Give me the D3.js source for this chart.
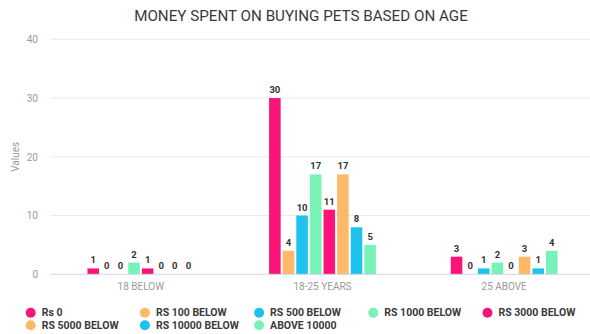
<!DOCTYPE html>
<html>
<head>
<meta charset="utf-8">
<script src="https://cdn.jsdelivr.net/npm/d3@7/dist/d3.min.js"></script>
<style>
  html, body { margin: 0; padding: 0; background: #fff; }
  svg { display: block; font-family: Roboto, "Noto Sans", sans-serif; }
</style>
</head>
<body>
<svg id="chart" width="590" height="334"></svg>
<script>
// Age groups on the x axis
const ageGroups = ["18 BELOW", "18-25 YEARS", "25 ABOVE"];

// Spending brackets (one bar per bracket in each group)
const brackets = ["Rs 0", "RS 100 BELOW", "RS 500 BELOW", "RS 1000 BELOW",
                  "RS 3000 BELOW", "RS 5000 BELOW", "RS 10000 BELOW", "ABOVE 10000"];

// Counts per bracket, one array per age group
const below18   = [1, 0, 0, 2, 1, 0, 0, 0];
const age18to25 = [30, 4, 10, 17, 11, 17, 8, 5];
const above25   = [3, 0, 1, 2, 0, 3, 1, 4];

const yTicks = [0, 10, 20, 30, 40];

const palette = ["#fa1479", "#fdb868", "#1dc3ec", "#79f2b8",
                 "#fa1479", "#fdb868", "#1dc3ec", "#79f2b8"];

const groupValues = [below18, age18to25, above25];

const svg = d3.select("#chart");

const x0 = d3.scaleBand().domain(ageGroups).range([50, 595]).padding(0);
const groupSpan = 106.8;
const x1 = d3.scaleBand().domain(brackets)
  .range([x0.bandwidth() / 2 - groupSpan / 2, x0.bandwidth() / 2 + groupSpan / 2])
  .paddingInner(0.15).paddingOuter(0);
const y = d3.scaleLinear().domain([0, 40]).range([274.3, 39.3]);
const color = d3.scaleOrdinal().domain(brackets).range(palette);

// Title
svg.append("text")
  .attr("x", 301).attr("y", 21)
  .attr("text-anchor", "middle")
  .attr("font-size", 15.2)
  .attr("fill", "#3a3a3a")
  .text("MONEY SPENT ON BUYING PETS BASED ON AGE");

// Horizontal gridlines
svg.append("g")
  .selectAll("line")
  .data(yTicks.filter(t => t !== 0))
  .join("line")
  .attr("x1", 50).attr("x2", 590)
  .attr("y1", d => y(d)).attr("y2", d => y(d))
  .attr("stroke", "#ececec").attr("stroke-width", 1);

// Y axis labels
const yAxis = svg.append("g")
  .attr("transform", "translate(38,0)")
  .call(d3.axisLeft(y).tickValues(yTicks).tickSize(0).tickPadding(0));
yAxis.select(".domain").remove();
yAxis.selectAll("text")
  .attr("font-family", "Roboto, sans-serif")
  .attr("font-size", 10)
  .attr("fill", "#9a9a9a");

// Y axis title
svg.append("text")
  .attr("transform", `translate(19,${(y(0) + y(40)) / 2}) rotate(-90)`)
  .attr("text-anchor", "middle")
  .attr("font-size", 10)
  .attr("fill", "#9a9a9a")
  .text("Values");

// Bars and their value labels
const groups = svg.append("g")
  .selectAll("g")
  .data(ageGroups.map((g, i) => ({ group: g, values: groupValues[i] })))
  .join("g")
  .attr("transform", d => `translate(${x0(d.group)},0)`);

groups.selectAll("rect")
  .data(d => d.values.map((v, i) => ({ key: brackets[i], value: v })))
  .join("rect")
  .attr("x", d => x1(d.key))
  .attr("width", x1.bandwidth())
  .attr("y", d => y(d.value))
  .attr("height", d => y(0) - y(d.value))
  .attr("fill", d => color(d.key));

groups.selectAll("text")
  .data(d => d.values.map((v, i) => ({ key: brackets[i], value: v })))
  .join("text")
  .attr("x", d => x1(d.key) + x1.bandwidth() / 2)
  .attr("y", d => y(d.value) - 5)
  .attr("text-anchor", "middle")
  .attr("font-size", 9.5)
  .attr("font-weight", "bold")
  .attr("fill", "#333")
  .text(d => d.value);

// Zero baseline
svg.append("line")
  .attr("x1", 50).attr("x2", 590)
  .attr("y1", y(0)).attr("y2", y(0))
  .attr("stroke", "#cdd6e2").attr("stroke-width", 1);

// X axis category labels
const xAxis = svg.append("g")
  .attr("transform", `translate(0,${y(0)})`)
  .call(d3.axisBottom(x0).tickSize(0).tickPadding(9));
xAxis.select(".domain").remove();
xAxis.selectAll("text")
  .attr("font-family", "Roboto, sans-serif")
  .attr("font-size", 10)
  .attr("fill", "#9a9a9a");

// Legend: five items per row
const legend = svg.append("g")
  .selectAll("g")
  .data(brackets)
  .join("g")
  .attr("transform", (d, i) => `translate(${30.7 + (i % 5) * 114.2},${i < 5 ? 312.7 : 325.3})`);

legend.append("circle")
  .attr("r", 5)
  .attr("fill", d => color(d));

legend.append("text")
  .attr("x", 11)
  .attr("dy", "0.35em")
  .attr("font-size", 10.5)
  .attr("font-weight", "bold")
  .attr("fill", "#3a3a3a")
  .text(d => d);
</script>
</body>
</html>
